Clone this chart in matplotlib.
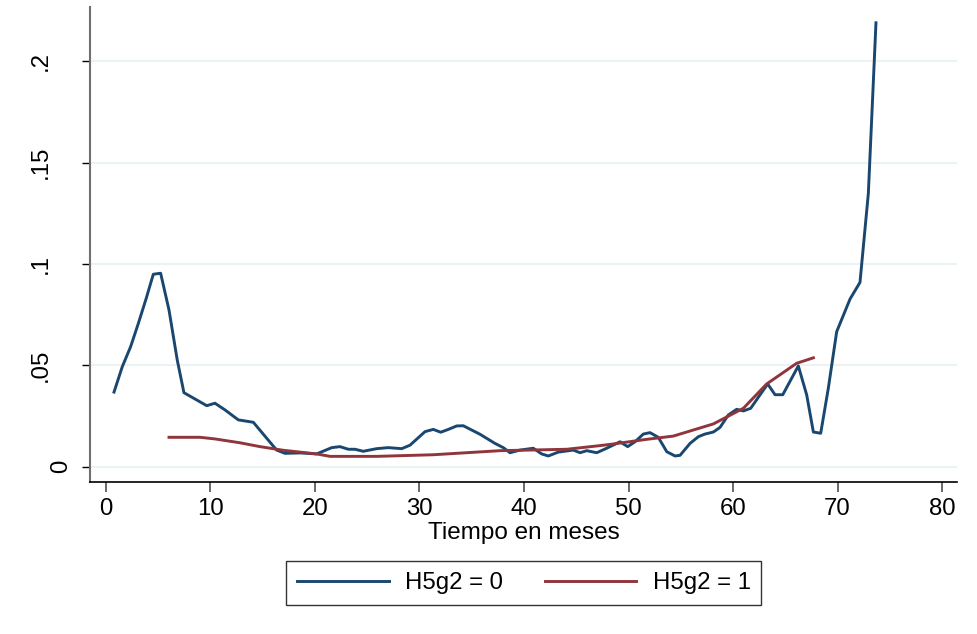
import numpy as np
import matplotlib.pyplot as plt
import matplotlib.transforms as mtransforms

plt.rcParams['font.family'] = ['Liberation Sans', 'DejaVu Sans']

# smoothed hazard, group H5g2 = 0
t0 = [0.77, 1.56, 2.36, 3.1, 3.85, 4.53, 5.23, 6.03, 6.82, 7.46, 9.64, 10.43,
      11.39, 12.66, 14.1, 16.33, 17.13, 18.6, 20.16, 21.6, 22.39, 23.19, 23.83,
      24.62, 25.9, 27.01, 28.3, 29.09, 30.53, 31.32, 32.03, 32.76, 33.56, 34.19,
      35.79, 37.22, 38.02, 38.66, 39.62, 40.89, 41.69, 42.33, 43.28, 44.72,
      45.36, 46.0, 46.96, 47.91, 49.19, 49.92, 50.62, 51.42, 52.06, 52.85,
      53.66, 54.45, 54.93, 55.89, 56.68, 57.32, 58.12, 58.76, 59.55, 60.35,
      60.99, 61.69, 62.58, 63.32, 64.02, 64.76, 66.25, 67.05, 67.69, 68.39,
      69.12, 69.92, 71.2, 72.15, 72.95, 73.68]
h0 = [0.0368, 0.0493, 0.0592, 0.0707, 0.0830, 0.0949, 0.0954, 0.0773, 0.0526,
      0.0365, 0.0301, 0.0313, 0.0280, 0.0231, 0.0219, 0.0082, 0.0066, 0.0068,
      0.0063, 0.0094, 0.0099, 0.0086, 0.0086, 0.0076, 0.0089, 0.0094, 0.0089,
      0.0106, 0.0173, 0.0184, 0.0170, 0.0184, 0.0201, 0.0202, 0.0160, 0.0115,
      0.0094, 0.0069, 0.0082, 0.0091, 0.0063, 0.0053, 0.0072, 0.0082, 0.0069,
      0.0079, 0.0069, 0.0091, 0.0123, 0.0099, 0.0123, 0.0161, 0.0168, 0.0145,
      0.0074, 0.0053, 0.0056, 0.0115, 0.0148, 0.0161, 0.0171, 0.0194, 0.0255,
      0.0283, 0.0275, 0.0288, 0.0354, 0.0408, 0.0355, 0.0355, 0.0497, 0.0354,
      0.0171, 0.0165, 0.0387, 0.0666, 0.0827, 0.0909, 0.1348, 0.2189]

# smoothed hazard, group H5g2 = 1
t1 = [6.03, 9.0, 10.43, 12.82, 14.74, 16.97, 20.16, 21.44, 25.9, 31.32, 37.7,
      44.09, 47.27, 48.54, 51.74, 54.29, 58.12, 60.99, 63.22, 66.09, 67.69]
h1 = [0.0145, 0.0145, 0.0137, 0.0118, 0.0099, 0.0081, 0.0063, 0.0051, 0.0051,
      0.0059, 0.0079, 0.0086, 0.0104, 0.0112, 0.0135, 0.0151, 0.0211, 0.0288,
      0.0408, 0.0510, 0.0537]

yticks = [0, 0.05, 0.1, 0.15, 0.2]
ylabels = ['0', '.05', '.1', '.15', '.2']
xticks = np.arange(0, 81, 10)

fig = plt.figure(figsize=(9.77, 6.34), dpi=100)
ax = fig.add_axes([0.0921, 0.2402, 0.8874, 0.7488])

ax.plot(t0, h0, color='#1a476f', lw=2.1, label='H5g2 = 0')
ax.plot(t1, h1, color='#90353b', lw=2.1, label='H5g2 = 1')

ax.set_xlim(-1.53, 81.43)
ax.set_ylim(-0.0074, 0.2267)
ax.set_yticks(yticks)
ax.set_yticklabels(ylabels, rotation=90, va='center')
ax.set_xticks(xticks)
ax.grid(axis='y', color='#eaf2f3', lw=1.5)
ax.set_axisbelow(True)

for s in ['top', 'right']:
    ax.spines[s].set_visible(False)
ax.spines['left'].set_color('#707070')
ax.spines['left'].set_linewidth(1.5)
ax.spines['bottom'].set_color('black')
ax.spines['bottom'].set_linewidth(1.2)

ax.tick_params(axis='x', length=7, width=1.2, color='#505050', pad=5,
               labelsize=17.3)
ax.tick_params(axis='y', length=6, width=1.0, color='black', pad=21.5,
               labelsize=17.3)

# the lone zero sits closer to the axis
lab0 = ax.get_yticklabels()[0]
lab0.set_transform(lab0.get_transform() +
                   mtransforms.ScaledTranslation(20 / 100, 0, fig.dpi_scale_trans))

ax.set_xlabel('Tiempo en meses', fontsize=17.5, labelpad=1)

leg = fig.legend(loc='center', bbox_to_anchor=(0.5363, 0.0804), ncol=2,
                 fontsize=17.3, frameon=True, fancybox=False, edgecolor='black',
                 handlelength=3.8, handletextpad=0.68, columnspacing=1.75,
                 borderpad=0.45, borderaxespad=0)
leg.get_frame().set_linewidth(1.0)

fig.savefig('out.png', dpi=100)
